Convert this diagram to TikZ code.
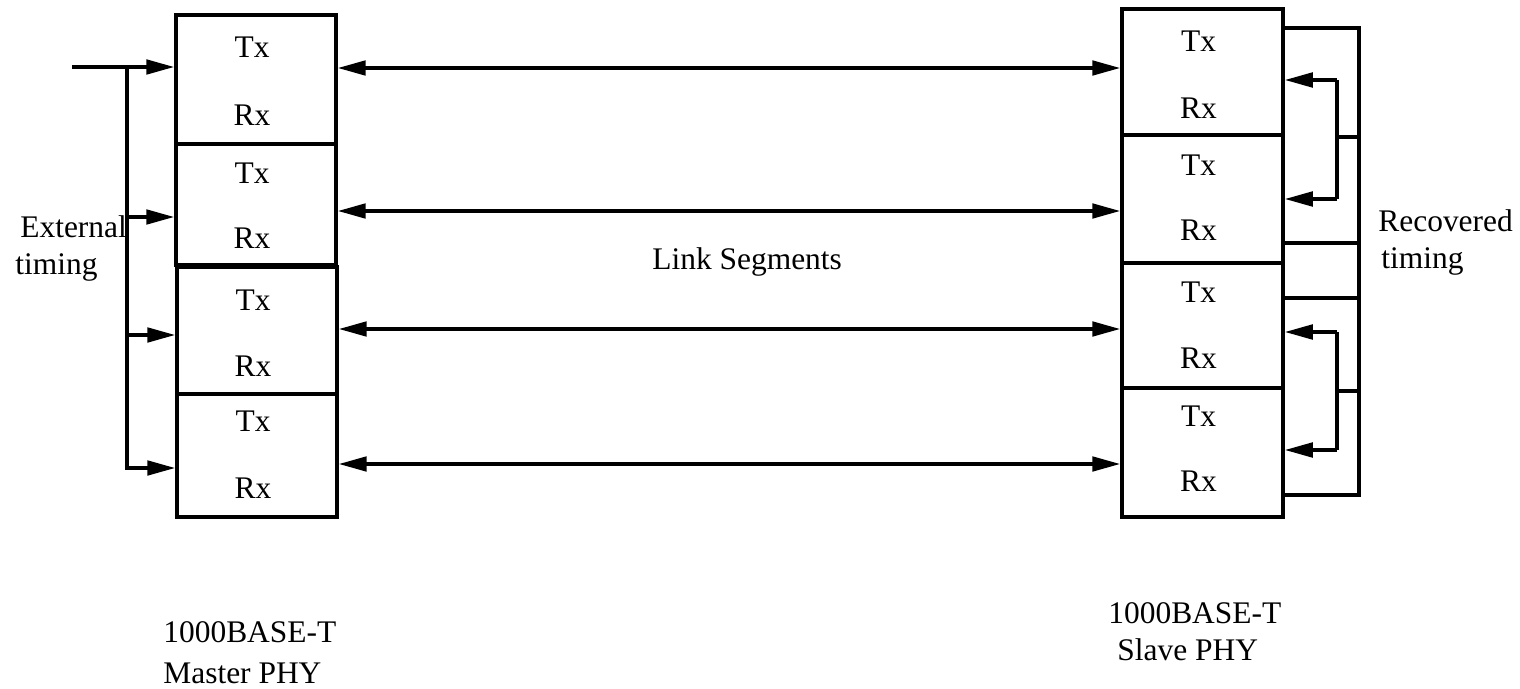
\documentclass[tikz,border=0pt]{standalone}
\usepackage{fontspec}
\setmainfont{Liberation Serif}
\usepackage{tikz}
\usetikzlibrary{calc,arrows.meta}

\begin{document}
\begin{tikzpicture}[x=0.02cm, y=-0.02cm,
    every node/.style={font=\fontsize{17.9}{21}\selectfont},
    cell/.style={draw, rectangle, line width=2pt, inner sep=0pt, minimum width=3.2cm},
    txt/.style={anchor=base, inner sep=0pt},
    lbl/.style={anchor=base west, inner sep=0pt},
    wire/.style={line width=2pt},
    feed/.style={line width=2pt, -{Triangle[length=0.56cm,width=0.29cm]}},
    link/.style={line width=2pt, {Triangle[length=0.56cm,width=0.29cm]}-{Triangle[length=0.56cm,width=0.29cm]}}]

\useasboundingbox (0,0) rectangle (1520,689);

% master PHY
\node[cell, minimum height=2.58cm] (m1) at (256,79.5) {};
\node[cell, minimum height=2.42cm] (m2) at (256,204.5) {};
\node[cell, minimum height=2.54cm] (m3) at (257,330.5) {};
\node[cell, minimum height=2.46cm] (m4) at (257,455.5) {};

\node[txt] (m1tx) at ($(m1.north)+(-4,44)$) {Tx};
\node[txt] (m1rx) at ($(m1.south)+(-4,-20)$) {Rx};
\node[txt] (m2tx) at ($(m2.north)+(-4,41)$) {Tx};
\node[txt] (m2rx) at ($(m2.south)+(-4,-18)$) {Rx};
\node[txt] (m3tx) at ($(m3.north)+(-4,45)$) {Tx};
\node[txt] (m3rx) at ($(m3.south)+(-4,-19)$) {Rx};
\node[txt] (m4tx) at ($(m4.north)+(-4,39)$) {Tx};
\node[txt] (m4rx) at ($(m4.south)+(-4,-20)$) {Rx};

% slave PHY
\node[cell, minimum width=3.22cm, minimum height=2.52cm] (s1) at (1202.5,72) {};
\node[cell, minimum width=3.22cm, minimum height=2.56cm] (s2) at (1202.5,199) {};
\node[cell, minimum width=3.22cm, minimum height=2.5cm] (s3) at (1202.5,325.5) {};
\node[cell, minimum width=3.22cm, minimum height=2.58cm] (s4) at (1202.5,452.5) {};

\node[txt] (s1tx) at ($(s1.north)+(-4,44)$) {Tx};
\node[txt] (s1rx) at ($(s1.south)+(-4,-18)$) {Rx};
\node[txt] (s2tx) at ($(s2.north)+(-4,42)$) {Tx};
\node[txt] (s2rx) at ($(s2.south)+(-4,-24)$) {Rx};
\node[txt] (s3tx) at ($(s3.north)+(-4,41)$) {Tx};
\node[txt] (s3rx) at ($(s3.south)+(-4,-21)$) {Rx};
\node[txt] (s4tx) at ($(s4.north)+(-4,40)$) {Tx};
\node[txt] (s4rx) at ($(s4.south)+(-4,-27)$) {Rx};

% link segments
\coordinate (l1) at (0,68);
\coordinate (l2) at (0,211);
\coordinate (l3) at (0,329);
\coordinate (l4) at (0,464);
\draw[link] (m1.east |- l1) -- (s1.west |- l1);
\draw[link] (m2.east |- l2) -- (s2.west |- l2);
\draw[link] (m3.east |- l3) -- (s3.west |- l3);
\draw[link] (m4.east |- l4) -- (s4.west |- l4);

\node[lbl] (linklbl) at (652,269) {Link Segments};

% external timing
\coordinate (ext) at (72,67);
\coordinate (bus1) at (127,67);
\coordinate (bus2) at (127,217);
\coordinate (bus3) at (127,335);
\coordinate (bus4) at (127,468);
\draw[wire] (ext) -- (bus1);
\draw[wire] (bus1) -- (bus4);
\draw[wire] ([xshift=-1pt]bus4) -- (bus4);
\draw[feed] (bus1) -- (m1.west |- bus1);
\draw[feed] (bus2) -- (m2.west |- bus2);
\draw[feed] (bus3) -- (m3.west |- bus3);
\draw[feed] (bus4) -- (m4.west |- bus4);

\node[lbl] (extlbl) at (20,237) {External};
\node[lbl] (extlbl2) at (15,274) {timing};

% recovered timing
\coordinate (rt) at (1359,28);
\coordinate (rb) at (1359,495);
\coordinate (o2) at (1359,243);
\coordinate (o3) at (1359,298);
\draw[wire] (s1.east |- rt) -- (rt) -- (rb) -- (s4.east |- rb);
\draw[wire] (s2.east |- o2) -- (o2);
\draw[wire] (s3.east |- o3) -- (o3);

\coordinate (b1) at (1337,80);
\coordinate (b2) at (1337,199);
\coordinate (j1) at (1337,137);
\draw[wire] (b1) -- (b2);
\draw[wire] (j1) -- (rt |- j1);
\draw[feed] (b1) -- (s1.east |- b1);
\draw[feed] (b2) -- (s2.east |- b2);

\coordinate (b3) at (1337,332);
\coordinate (b4) at (1337,450);
\coordinate (j2) at (1337,391);
\draw[wire] (b3) -- (b4);
\draw[wire] (j2) -- (rt |- j2);
\draw[feed] (b3) -- (s3.east |- b3);
\draw[feed] (b4) -- (s4.east |- b4);

\node[lbl] (reclbl) at (1378,232) {Recovered};
\node[lbl] (reclbl2) at (1381,268) {timing};

% PHY names
\node[lbl] (mlbl) at (163,642) {1000BASE-T};
\node[lbl] (mlbl2) at (163,683) {Master PHY};
\node[lbl] (slbl) at (1108,623) {1000BASE-T};
\node[lbl] (slbl2) at (1117,660) {Slave PHY};

\end{tikzpicture}
\end{document}
